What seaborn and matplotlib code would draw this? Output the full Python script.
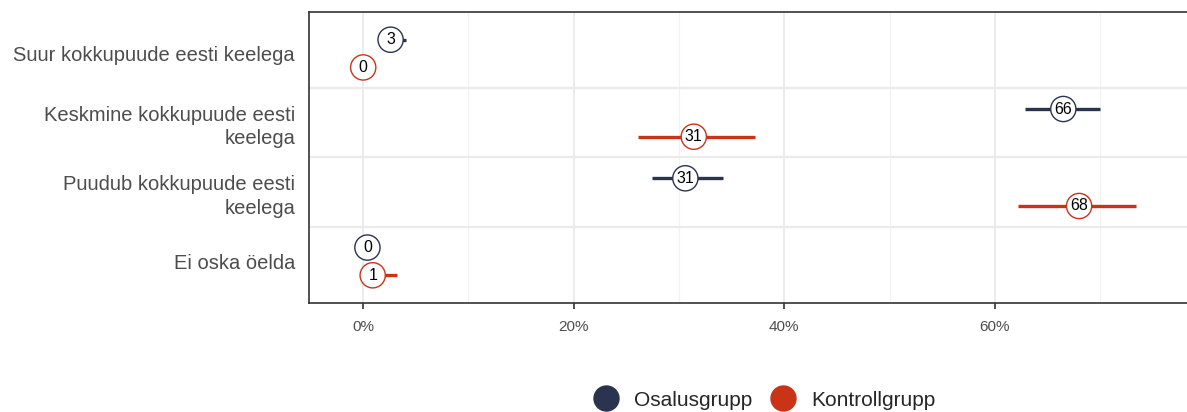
import numpy as np
import pandas as pd
import matplotlib
matplotlib.use("Agg")
import matplotlib.pyplot as plt
import seaborn as sns
from matplotlib.lines import Line2D

categories = ["Suur kokkupuude eesti keelega",
              "Keskmine kokkupuude eesti\nkeelega",
              "Puudub kokkupuude eesti\nkeelega",
              "Ei oska öelda"]
groups = ["Osalusgrupp", "Kontrollgrupp"]
osalus_val = [2.6, 66.5, 30.6, 0.4]
osalus_lo = [2.0, 62.9, 27.4, 0.4]
osalus_hi = [4.1, 70.0, 34.2, 0.4]
osalus_lbl = ["3", "66", "31", "0"]
kontroll_val = [0.0, 31.4, 68.0, 0.9]
kontroll_lo = [0.0, 26.1, 62.2, 0.9]
kontroll_hi = [0.0, 37.2, 73.4, 3.2]
kontroll_lbl = ["0", "31", "68", "1"]
x_ticks = [0, 20, 40, 60]
x_tick_labels = ["0%", "20%", "40%", "60%"]

colors = {"Osalusgrupp": "#2B344E", "Kontrollgrupp": "#C93417"}
offsets = {"Osalusgrupp": -0.2, "Kontrollgrupp": 0.2}

rows = []
for i, c in enumerate(categories):
    rows.append(dict(cat=i, group="Osalusgrupp", val=osalus_val[i], lo=osalus_lo[i],
                     hi=osalus_hi[i], lbl=osalus_lbl[i]))
    rows.append(dict(cat=i, group="Kontrollgrupp", val=kontroll_val[i], lo=kontroll_lo[i],
                     hi=kontroll_hi[i], lbl=kontroll_lbl[i]))
df = pd.DataFrame(rows)
df["y"] = df["cat"] + df["group"].map(offsets)

sns.set_theme(style="white")
plt.rcParams['font.family'] = ['Liberation Sans', 'DejaVu Sans']

fig = plt.figure(figsize=(11.87, 4.12), dpi=100)
ax = fig.add_axes([309 / 1187, 1 - 303 / 412, 1 - 309 / 1187, (303 - 12) / 412])

# grid
for x in [10, 30, 50, 70]:
    ax.axvline(x, color="#F2F2F2", lw=0.9, zorder=0)
for x in x_ticks:
    ax.axvline(x, color="#EBEBEB", lw=1.3, zorder=0)
for y in [0.5, 1.5, 2.5]:
    ax.axhline(y, color="#EBEBEB", lw=1.6, zorder=0)

# error bars
for _, r in df.iterrows():
    ax.hlines(r["y"], r["lo"], r["hi"], color=colors[r["group"]], lw=2.4, zorder=2)

sns.scatterplot(data=df, x="val", y="y", hue="group", palette=colors,
                hue_order=groups, s=330, legend=False,
                ax=ax, zorder=3, linewidth=1.0)
coll = ax.collections[-1]
coll.set_facecolor("white")
coll.set_edgecolor([colors[g] for g in df["group"]])

for _, r in df.iterrows():
    ax.text(r["val"], r["y"], r["lbl"], ha="center", va="center", fontsize=11.5,
            color="black", zorder=4)

ax.set_xlim(-5.15, 78.25)
ax.set_ylim(3.6, -0.6)
ax.set_xticks(x_ticks)
ax.set_xticklabels(x_tick_labels, fontsize=11, color="#4D4D4D")
ax.set_yticks(range(len(categories)))
ax.set_yticklabels(categories, fontsize=14.5, color="#4D4D4D", ha="right",
                   linespacing=1.3)
ax.tick_params(axis="x", length=4, width=1.2, color="#333333", pad=8, bottom=True)
ax.tick_params(axis="y", length=0, pad=10)
ax.set_xlabel("")
ax.set_ylabel("")
for s in ["left", "bottom", "top"]:
    ax.spines[s].set_color("#333333")
    ax.spines[s].set_linewidth(1.2)
ax.spines["right"].set_visible(False)

# legend
handles = [Line2D([], [], marker="o", ls="", markersize=18, markerfacecolor=colors[g],
                  markeredgecolor=colors[g]) for g in groups]
fig.legend(handles, groups, loc="center", bbox_to_anchor=(760 / 1187, 1 - 400 / 412),
           ncol=2, frameon=False, fontsize=15, handletextpad=0.36, columnspacing=0.45)

fig.savefig("out.png", dpi=100)
